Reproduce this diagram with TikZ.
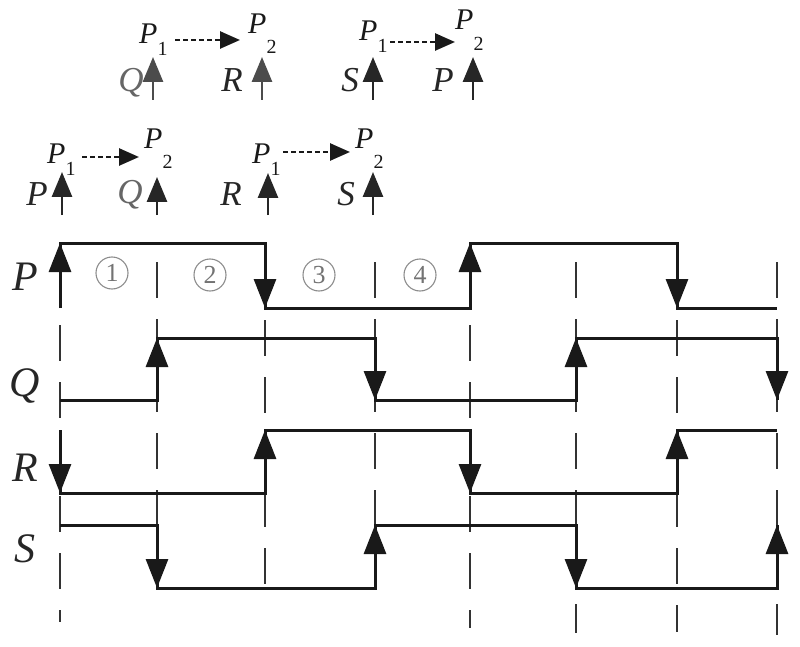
\documentclass[tikz,border=0pt]{standalone}
\usepackage{fontspec}
\setmainfont{Liberation Serif}
\usetikzlibrary{arrows.meta}
\newcommand\psub[3]{{\fontsize{30}{30}\selectfont\itshape P}\kern#2\raisebox{#3}{\fontsize{20}{20}\selectfont #1}}
\begin{document}
\begin{tikzpicture}[x=1pt,y=-1pt,
  sig/.style={line width=3pt, draw=black!90, line join=miter},
  gridline/.style={line width=2.8pt, draw=black!80, dash pattern=on 36pt off 21pt},
  head/.style={sig,-{Triangle[length=29pt,width=22pt]}},
  tarrow/.style={line width=2.8pt, draw=black!85, -{Triangle[length=25pt,width=20pt]}},
  darrow/.style={line width=2.6pt, draw=black!90, dash pattern=on 5pt off 3pt, -{Triangle[length=20pt,width=17pt]}},
  biglab/.style={font=\fontsize{42}{42}\selectfont\itshape, anchor=base, inner sep=0pt, text=black!85},
  toplab/.style={font=\fontsize{35}{35}\selectfont\itshape, anchor=base, inner sep=0pt, text=black!85},
  plab/.style={anchor=base west, inner sep=0pt, text=black!90},
  circnum/.style={circle, draw=black!45, line width=1.1pt, minimum size=32pt, inner sep=0pt, text=black!55, font=\fontsize{26}{26}\selectfont}
]
\useasboundingbox (0,0) rectangle (800,647);

% ---- timing grid (dashed verticals)
\draw[gridline] (60,325) -- (60,622);
\draw[gridline] (157,262) -- (157,588);
\draw[gridline] (265,320) -- (265,590);
\draw[gridline] (375,262) -- (375,588);
\draw[gridline] (470,325) -- (470,628);
\draw[gridline] (576,262) -- (576,633);
\draw[gridline] (677,320) -- (677,632);
\draw[gridline] (777,262) -- (777,635);

% ---- signal P
\draw[sig] (60,308) -- (60,243) -- (265,243) -- (265,308) -- (470,308) -- (470,243) -- (677,243) -- (677,308) -- (777,308);
\draw[head] (60,280) -- (60,243);
\draw[head] (265,270) -- (265,308);
\draw[head] (470,280) -- (470,243);
\draw[head] (677,270) -- (677,308);

% ---- signal Q
\draw[sig] (60,400) -- (157,400) -- (157,338) -- (375,338) -- (375,400) -- (576,400) -- (576,338) -- (777,338) -- (777,400);
\draw[head] (157,375) -- (157,338);
\draw[head] (375,360) -- (375,400);
\draw[head] (576,375) -- (576,338);
\draw[head] (777,360) -- (777,400);

% ---- signal R
\draw[sig] (60,430) -- (60,493) -- (265,493) -- (265,430) -- (470,430) -- (470,493) -- (677,493) -- (677,430) -- (777,430);
\draw[head] (60,455) -- (60,493);
\draw[head] (265,470) -- (265,430);
\draw[head] (470,455) -- (470,493);
\draw[head] (677,470) -- (677,430);

% ---- signal S
\draw[sig] (60,525) -- (157,525) -- (157,588) -- (375,588) -- (375,525) -- (576,525) -- (576,588) -- (777,588) -- (777,525);
\draw[head] (157,550) -- (157,588);
\draw[head] (375,560) -- (375,525);
\draw[head] (576,550) -- (576,588);
\draw[head] (777,560) -- (777,525);

% ---- signal labels
\node[biglab] (lP) at (25,290) {P};
\node[biglab] (lQ) at (25,396) {Q};
\node[biglab] (lR) at (25,481) {R};
\node[biglab] (lS) at (25,562) {S};

% ---- interval numbers
\node[circnum] (c1) at (112,273) {1};
\node[circnum] (c2) at (210,275) {2};
\node[circnum] (c3) at (319,275) {3};
\node[circnum] (c4) at (420,275) {4};

% ---- top row 1, group 1
\node[plab] (a1P) at (139,44) {\psub{1}{0pt}{-12pt}};
\node[plab] (a2P) at (248,34) {\psub{2}{0pt}{-20pt}};
\coordinate (a1e) at (175,40);
\coordinate (a2e) at (240,40);
\draw[darrow] (a1e) -- (a2e);
\node[toplab, text=black!60] (aQ) at (131,92) {Q};
\coordinate (aQb) at (153,100); \coordinate (aQt) at (153,57);
\draw[tarrow, draw=black!70] (aQb) -- (aQt);
\node[toplab] (aR) at (232,92) {R};
\coordinate (aRb) at (262,100); \coordinate (aRt) at (262,57);
\draw[tarrow, draw=black!70] (aRb) -- (aRt);

% ---- top row 1, group 2
\node[plab] (b1P) at (359,41) {\psub{1}{0pt}{-12pt}};
\node[plab] (b2P) at (455,30) {\psub{2}{0pt}{-21pt}};
\coordinate (b1e) at (390,42);
\coordinate (b2e) at (455,42);
\draw[darrow] (b1e) -- (b2e);
\node[toplab] (bS) at (350,92) {S};
\coordinate (bSb) at (373,100); \coordinate (bSt) at (373,57);
\draw[tarrow] (bSb) -- (bSt);
\node[toplab] (bP) at (443,92) {P};
\coordinate (bPb) at (473,100); \coordinate (bPt) at (473,57);
\draw[tarrow] (bPb) -- (bPt);

% ---- top row 2, group 1
\node[plab] (c1P) at (47,164) {\psub{1}{0pt}{-12pt}};
\node[plab] (c2P) at (144,149) {\psub{2}{0pt}{-20pt}};
\coordinate (c1e) at (82,157);
\coordinate (c2e) at (139,157);
\draw[darrow] (c1e) -- (c2e);
\node[toplab] (cP) at (37,206) {P};
\coordinate (cPb) at (62,215); \coordinate (cPt) at (62,172);
\draw[tarrow] (cPb) -- (cPt);
\node[toplab, text=black!60] (cQ) at (130,204) {Q};
\coordinate (cQb) at (157,215); \coordinate (cQt) at (157,177);
\draw[tarrow] (cQb) -- (cQt);

% ---- top row 2, group 2
\node[plab] (d1P) at (252,164) {\psub{1}{0pt}{-12pt}};
\node[plab] (d2P) at (355,149) {\psub{2}{0pt}{-20pt}};
\coordinate (d1e) at (283,152);
\coordinate (d2e) at (350,152);
\draw[darrow] (d1e) -- (d2e);
\node[toplab] (dR) at (231,205) {R};
\coordinate (dRb) at (268,215); \coordinate (dRt) at (268,173);
\draw[tarrow] (dRb) -- (dRt);
\node[toplab] (dS) at (346,205) {S};
\coordinate (dSb) at (373,215); \coordinate (dSt) at (373,172);
\draw[tarrow] (dSb) -- (dSt);
\end{tikzpicture}
\end{document}
